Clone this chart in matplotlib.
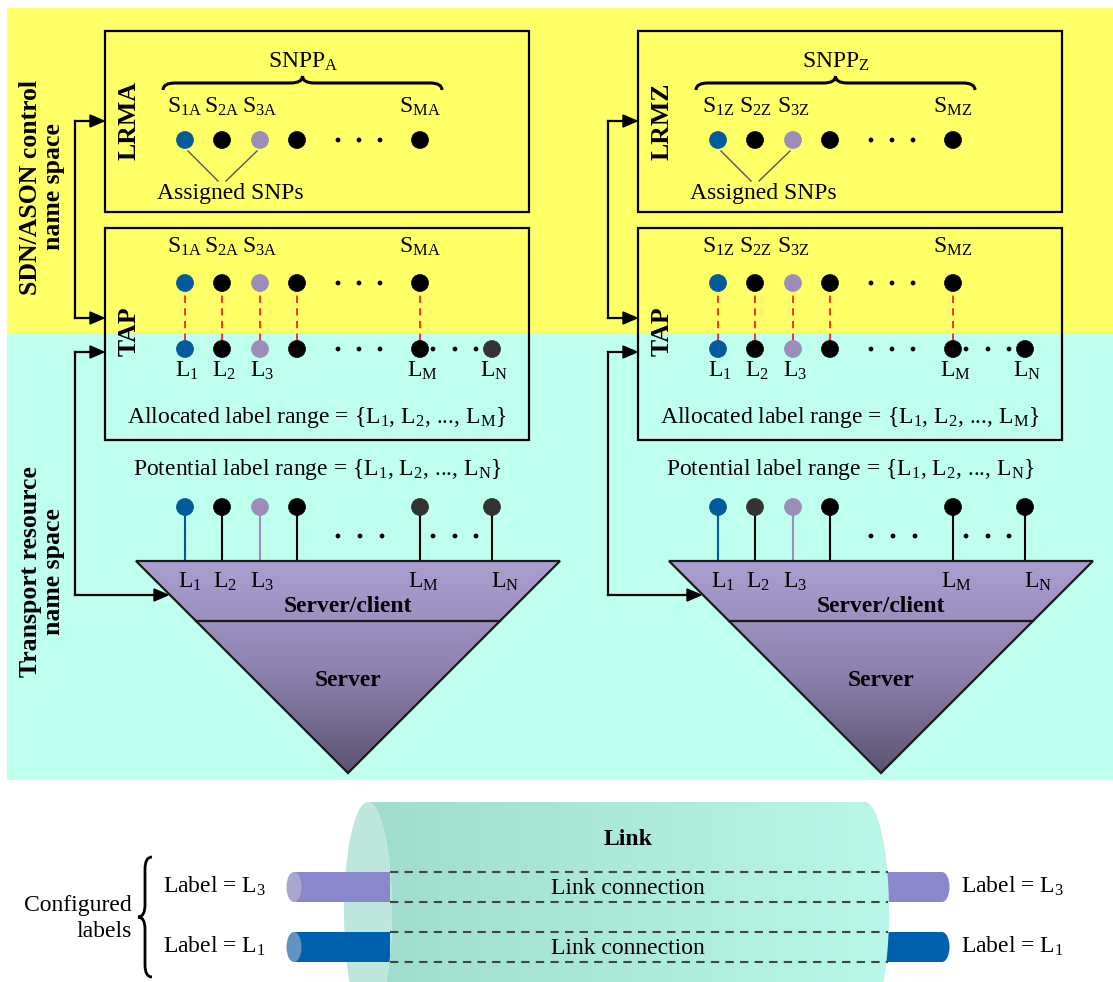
import numpy as np
import matplotlib
matplotlib.use('Agg')
import matplotlib.pyplot as plt
from matplotlib.patches import Rectangle, Polygon, Circle, Ellipse, PathPatch
from matplotlib.path import Path
from matplotlib.colors import LinearSegmentedColormap

plt.rcParams['font.family'] = ['Liberation Serif', 'DejaVu Serif']
plt.rcParams['mathtext.fontset'] = 'custom'
plt.rcParams['mathtext.rm'] = 'Liberation Serif'
plt.rcParams['mathtext.it'] = 'Liberation Serif:italic'
plt.rcParams['mathtext.bf'] = 'Liberation Serif:bold'

# colours
YELLOW = '#ffff66'
CYAN = '#bfffee'
BLUE = '#005a9c'
LILAC = '#9a8db8'
BLK = '#000000'
DARK = '#333333'

# data
panel_ids = ['A', 'Z']
lrm_names = ['LRMA', 'LRMZ']
snp_subs = ['1', '2', '3', None, 'M']           # S labels (4th slot unlabeled)
lab_subs = ['1', '2', '3', None, 'M', 'N']      # L labels
snp_colors = [BLUE, BLK, LILAC, BLK, BLK]
tap_low_colors = {'A': [BLUE, BLK, LILAC, BLK, BLK, DARK],
                  'Z': [BLUE, BLK, LILAC, BLK, BLK, BLK]}
pot_colors = {'A': [BLUE, BLK, LILAC, BLK, DARK, DARK],
              'Z': [BLUE, DARK, LILAC, BLK, BLK, BLK]}
conn_labels = ['3', '1']
conn_colors = ['#8a87cc', '#0060b0']
cap_colors = ['#aaa6d2', '#6193c3']

FS = 17

fig = plt.figure(figsize=(11.13, 9.82), dpi=100)
ax = fig.add_axes([0, 0, 1, 1])


def txt(x, y, s, **kw):
    kw.setdefault('fontsize', FS)
    kw.setdefault('ha', 'center')
    kw.setdefault('va', 'baseline')
    ax.text(x, y, s, **kw)


def dot(x, y, c, r=8.5):
    ax.add_patch(Circle((x, y), r, fc=c, ec=c, lw=0.5, zorder=4))


def minidots(xs, y):
    for x in xs:
        ax.add_patch(Circle((x, y), 2.4, fc=BLK, ec='none', zorder=4))


def brace_h(x0, x1, yb, h, r=12):
    xm = (x0 + x1) / 2
    ym = yb - h / 2
    yt = yb - h
    verts = [(x0, yb), (x0, ym), (x0 + r, ym), (xm - r, ym), (xm, ym), (xm, yt),
             (xm, ym), (xm + r, ym), (x1 - r, ym), (x1, ym), (x1, yb)]
    codes = [Path.MOVETO, Path.CURVE3, Path.CURVE3, Path.LINETO, Path.CURVE3, Path.CURVE3,
             Path.CURVE3, Path.CURVE3, Path.LINETO, Path.CURVE3, Path.CURVE3]
    ax.add_patch(PathPatch(Path(verts, codes), fc='none', ec=BLK, lw=2.2))


def brace_v(xb, y0, y1, h, r=12):
    ym = (y0 + y1) / 2
    xm = xb - h / 2
    xt = xb - h
    verts = [(xb, y0), (xm, y0), (xm, y0 + r), (xm, ym - r), (xm, ym), (xt, ym),
             (xm, ym), (xm, ym + r), (xm, y1 - r), (xm, y1), (xb, y1)]
    codes = [Path.MOVETO, Path.CURVE3, Path.CURVE3, Path.LINETO, Path.CURVE3, Path.CURVE3,
             Path.CURVE3, Path.CURVE3, Path.LINETO, Path.CURVE3, Path.CURVE3]
    ax.add_patch(PathPatch(Path(verts, codes), fc='none', ec=BLK, lw=2.0))


def arrow_to(x0, y, x1):
    ax.plot([x0, x1 - 12], [y, y], color=BLK, lw=1.6)
    ax.add_patch(Polygon([(x1, y), (x1 - 14, y - 6), (x1 - 14, y + 6)], fc=BLK, ec=BLK, zorder=5))


# backgrounds
ax.add_patch(Rectangle((7, 8), 1106, 325, fc=YELLOW, ec='none', zorder=0))
ax.add_patch(Rectangle((7, 333), 1106, 447, fc=CYAN, ec='none', zorder=0))

# namespace labels
ax.text(42, 187, 'SDN/ASON control\nname space', rotation=90, ha='center', va='center',
        fontsize=18.5, fontweight='bold', linespacing=1.05)
ax.text(42, 572, 'Transport resource\nname space', rotation=90, ha='center', va='center',
        fontsize=18.5, fontweight='bold', linespacing=1.05)

slots = [185, 222, 260, 297, 420, 492]
tri_cmap = LinearSegmentedColormap.from_list('tri', ['#aa9fd0', '#8f84b0', '#5c5470'])

for k, pid in enumerate(panel_ids):
    dx = 533 * k
    xs = [s + dx for s in slots]

    # boxes
    ax.add_patch(Rectangle((105 + dx, 31), 424, 181, fc='none', ec=BLK, lw=1.6, zorder=3))
    ax.add_patch(Rectangle((105 + dx, 228), 424, 212, fc='none', ec=BLK, lw=1.6, zorder=3))
    ax.text(129 + dx, 121, lrm_names[k], rotation=90, ha='center', va='center',
            fontsize=18.5, fontweight='bold')
    ax.text(129 + dx, 331, 'TAP', rotation=90, ha='center', va='center',
            fontsize=18.5, fontweight='bold')

    # arrows
    ax.plot([75 + dx, 75 + dx], [121, 318], color=BLK, lw=1.6)
    arrow_to(75 + dx, 121, 104 + dx)
    arrow_to(75 + dx, 318, 104 + dx)
    ax.plot([75 + dx, 75 + dx], [352, 595], color=BLK, lw=1.6)
    arrow_to(75 + dx, 352, 104 + dx)
    arrow_to(75 + dx, 595, 168 + dx)

    # LRM box
    txt(303 + dx, 68, 'SNPP$_{\\mathrm{%s}}$' % pid)
    brace_h(163 + dx, 442 + dx, 90, 14)
    for i, sub in enumerate(snp_subs):
        if sub:
            txt(xs[i], 113, 'S$_{\\mathrm{%s%s}}$' % (sub, pid))
        dot(xs[i], 140, snp_colors[i])
    minidots([338 + dx, 359 + dx, 380 + dx], 140)
    ax.plot([xs[0] + 3, 218 + dx], [151, 181], color='#555555', lw=1)
    ax.plot([xs[2] - 3, 226 + dx], [151, 181], color='#555555', lw=1)
    txt(230 + dx, 199, 'Assigned SNPs')

    # TAP box
    for i, sub in enumerate(snp_subs):
        if sub:
            txt(xs[i], 253, 'S$_{\\mathrm{%s%s}}$' % (sub, pid))
        dot(xs[i], 283, snp_colors[i])
        ax.plot([xs[i], xs[i]], [283, 349], color='#ff2020', lw=1.3, ls=(0, (4, 3)), zorder=3)
    minidots([338 + dx, 359 + dx, 380 + dx], 283)
    for i, sub in enumerate(lab_subs):
        dot(xs[i], 349, tap_low_colors[pid][i])
        if sub:
            txt(xs[i] + 2, 377, 'L$_{\\mathrm{%s}}$' % sub)
    minidots([338 + dx, 359 + dx, 380 + dx, 433 + dx, 455 + dx, 476 + dx], 349)
    txt(317 + dx, 423, 'Allocated label range = {L$_{\\mathrm{1}}$, L$_{\\mathrm{2}}$, ..., L$_{\\mathrm{M}}$}')

    # potential labels
    txt(317 + dx, 475, 'Potential label range = {L$_{\\mathrm{1}}$, L$_{\\mathrm{2}}$, ..., L$_{\\mathrm{N}}$}')
    for i in range(len(slots)):
        c = pot_colors[pid][i]
        stem = c if c in (BLUE, LILAC) else BLK
        ax.plot([xs[i], xs[i]], [507, 561], color=stem, lw=1.5, zorder=2)
        dot(xs[i], 507, c)
    minidots([338 + dx, 360 + dx, 382 + dx, 433 + dx, 455 + dx, 476 + dx], 536)

    # server triangle
    tri = Polygon([(136 + dx, 561), (560 + dx, 561), (348 + dx, 773)], closed=True,
                  fc='none', ec='#1a1a1a', lw=1.6, zorder=3)
    ax.add_patch(tri)
    grad = np.linspace(0, 1, 256).reshape(-1, 1)
    im = ax.imshow(grad, extent=[136 + dx, 560 + dx, 773, 561], cmap=tri_cmap,
                   aspect='auto', zorder=1, origin='upper')
    im.set_clip_path(tri)
    ax.plot([196 + dx, 500 + dx], [621, 621], color='#1a1a1a', lw=1.6, zorder=3)
    tri_lx = [190, 225, 262, None, 423, 505]
    for i, sub in enumerate(lab_subs):
        if sub:
            txt(tri_lx[i] + dx, 588, 'L$_{\\mathrm{%s}}$' % sub, zorder=4)
    txt(348 + dx, 612, 'Server/client', fontweight='bold', zorder=4)
    txt(348 + dx, 686, 'Server', fontweight='bold', zorder=4)

# link cylinder
face = Ellipse((368, 912), 48, 220, fc='#bee6dc', ec='none', zorder=1)
ax.add_patch(face)
for j in range(2):
    y0 = 872 + 60 * j
    ax.add_patch(Rectangle((294, y0), 96, 30, fc=conn_colors[j], ec='none', zorder=2))
    ax.add_patch(Ellipse((294, y0 + 15), 15, 30, fc=cap_colors[j], ec='none', zorder=2))
    ax.add_patch(Rectangle((880, y0), 62, 30, fc=conn_colors[j], ec='none', zorder=2))
    ax.add_patch(Ellipse((942, y0 + 15), 15, 30, fc=conn_colors[j], ec='none', zorder=2))

t = np.linspace(-np.pi / 2, np.pi / 2, 80)
left_arc = np.column_stack([368 + 24 * np.cos(t), 912 + 110 * np.sin(t)])
right_arc = np.column_stack([865 + 24 * np.cos(t[::-1]), 912 + 110 * np.sin(t[::-1])])
body = Polygon(np.vstack([left_arc, right_arc]), closed=True, fc='none', ec='none')
ax.add_patch(body)
hgrad = np.linspace(0, 1, 256).reshape(1, -1)
cyl_cmap = LinearSegmentedColormap.from_list('cyl', ['#9edbcb', '#b9f7e8'])
im2 = ax.imshow(hgrad, extent=[340, 892, 1025, 800], cmap=cyl_cmap, aspect='auto',
                zorder=3, origin='upper')
im2.set_clip_path(body)

for j in range(2):
    y0 = 872 + 60 * j
    ax.plot([390, 888], [y0, y0], color='#444444', lw=1.5, ls=(0, (4, 3)), zorder=4)
    ax.plot([390, 888], [y0 + 30, y0 + 30], color='#444444', lw=1.5, ls=(0, (4, 3)), zorder=4)
    txt(628, y0 + 22, 'Link connection', zorder=5)
    txt(163, y0 + 21, 'Label = L$_{\\mathrm{%s}}$' % conn_labels[j], ha='left')
    txt(961, y0 + 21, 'Label = L$_{\\mathrm{%s}}$' % conn_labels[j], ha='left')
txt(628, 845, 'Link', fontweight='bold', zorder=5)
txt(132, 911, 'Configured', ha='right')
txt(132, 937, 'labels', ha='right')
brace_v(152, 857, 977, 14)

ax.set_xlim(0, 1113)
ax.set_ylim(982, 0)
ax.axis('off')
fig.savefig('out.png', dpi=100)
